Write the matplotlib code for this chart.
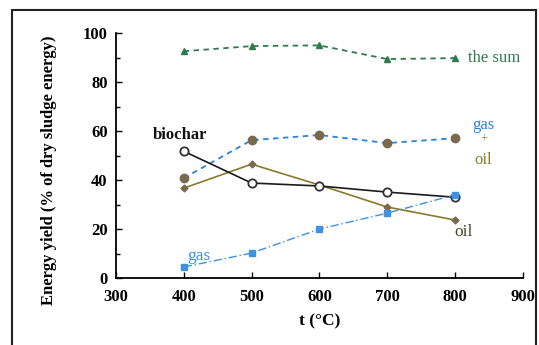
import matplotlib
matplotlib.use("Agg")
import matplotlib.pyplot as plt
from matplotlib.patches import Rectangle

temps = [400, 500, 600, 700, 800]
the_sum = [92.6, 94.7, 95.0, 89.4, 89.8]
gas_oil = [40.8, 56.3, 58.4, 55.1, 57.1]
biochar = [51.8, 38.8, 37.6, 35.1, 33.0]
oil = [36.7, 46.5, 38.0, 29.0, 23.7]
gas = [4.5, 10.2, 20.0, 26.5, 34.0]

plt.rcParams['font.family'] = ['Liberation Serif', 'DejaVu Serif']

fig = plt.figure(figsize=(5.39, 3.45), dpi=100)
ax = fig.add_axes([0.215, 0.194, 0.755, 0.710])

green = '#2f7a4f'
blue = '#2b82d9'
lblue = '#3d92e3'
brown = '#7a6a4c'
olive = '#8a7a2a'

ax.plot(temps, the_sum, linestyle=(0, (3, 2.5)), color=green, lw=1.3,
        marker='^', ms=5, mfc=green, mec=green)
ax.plot(temps, gas_oil, linestyle=(0, (3, 2.5)), color=blue, lw=1.3,
        marker='o', ms=6, mfc=brown, mec=brown)
ax.plot(temps, oil, linestyle='-', color=olive, lw=1.2,
        marker='D', ms=3.5, mfc=brown, mec=brown)
ax.plot(temps, biochar, linestyle='-', color='#1a1a1a', lw=1.2,
        marker='o', ms=6, mfc='white', mec='#333333', mew=1.3)
ax.plot(temps, gas, linestyle=(0, (6, 2, 1, 2)), color=lblue, lw=1.0,
        marker='s', ms=4.5, mfc=lblue, mec=lblue)

ax.set_xlim(300, 900)
ax.set_ylim(0, 100)
ax.set_xticks([300, 400, 500, 600, 700, 800, 900])
ax.set_yticks([0, 20, 40, 60, 80, 100])
ax.set_yticks([10, 30, 50, 70, 90], minor=True)
ax.tick_params(axis='both', which='both', direction='in', labelsize=12)
ax.tick_params(axis='both', which='major', length=4, width=1)
ax.tick_params(axis='y', which='minor', length=3, width=1)
for lbl in ax.get_xticklabels() + ax.get_yticklabels():
    lbl.set_fontweight('bold')
ax.tick_params(axis='x', pad=8)
ax.tick_params(axis='y', pad=6)
ax.spines['top'].set_visible(False)
ax.spines['right'].set_visible(False)
ax.spines['left'].set_linewidth(1.3)
ax.spines['bottom'].set_linewidth(1.3)

ax.set_xlabel('t (°C)', fontsize=12.5, fontweight='bold', labelpad=6)
ax.set_ylabel('Energy yield (% of dry sludge energy)', fontsize=12,
              fontweight='bold')
ax.yaxis.set_label_coords(-0.145, 0.44)

ax.text(819, 89.8, 'the sum', color=green, fontsize=12, va='center', ha='left')
ax.text(842, 62.4, 'gas', color=blue, fontsize=12, va='center', ha='center')
ax.text(842, 56.3, '+', color=olive, fontsize=9, va='center', ha='center')
ax.text(842, 48.0, 'oil', color=olive, fontsize=12, va='center', ha='center')
ax.text(394, 58.4, 'biochar', color='#111111', fontsize=12, fontweight='bold',
        va='center', ha='center')
ax.text(812, 19.0, 'oil', color='#4a4030', fontsize=12.5, va='center', ha='center')
ax.text(423, 9.2, 'gas', color=lblue, fontsize=12.5, va='center', ha='center')

fig.patches.append(Rectangle((12/539, -0.01), (536-12)/539, 1 - 10/345 + 0.01,
                             transform=fig.transFigure, fill=False,
                             edgecolor='#222222', lw=1.5))

fig.savefig('out.png', dpi=100)
